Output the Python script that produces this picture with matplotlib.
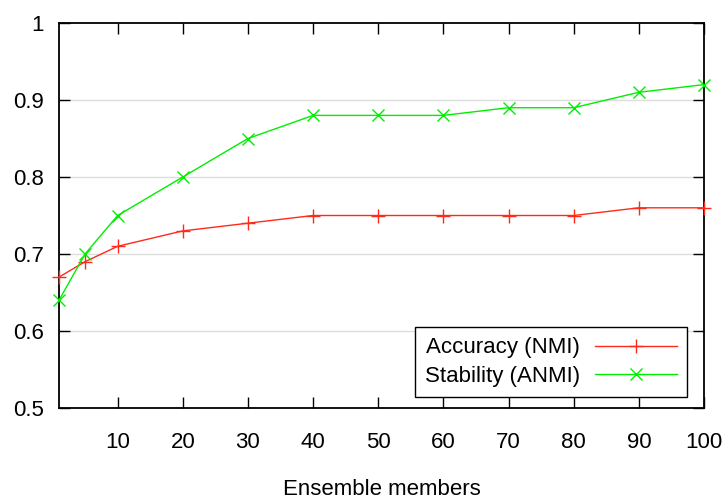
import matplotlib
matplotlib.use("Agg")
import matplotlib.pyplot as plt

members = [1, 5, 10, 20, 30, 40, 50, 60, 70, 80, 90, 100]
accuracy_nmi = [0.67, 0.69, 0.71, 0.73, 0.74, 0.75, 0.75, 0.75, 0.75, 0.75, 0.76, 0.76]
stability_anmi = [0.64, 0.70, 0.75, 0.80, 0.85, 0.88, 0.88, 0.88, 0.89, 0.89, 0.91, 0.92]
x_ticks = [10, 20, 30, 40, 50, 60, 70, 80, 90, 100]
y_ticks = [0.5, 0.6, 0.7, 0.8, 0.9, 1.0]
y_labels = ["0.5", "0.6", "0.7", "0.8", "0.9", "1"]

plt.rcParams["font.family"] = ["Liberation Sans", "DejaVu Sans"]

fig = plt.figure(figsize=(7.24, 5.04), dpi=100)
ax = fig.add_axes([59 / 724, 1 - 408 / 504, (704 - 59) / 724, (408 - 23) / 504])

for y in y_ticks[1:-1]:
    ax.axhline(y, color="#dddddd", lw=1.0, zorder=0)

ax.plot(members, accuracy_nmi, color="#ff2a1a", lw=1.0, marker="+",
        markersize=10, markeredgewidth=1.0, label="Accuracy (NMI)", clip_on=False, zorder=3)
ax.plot(members, stability_anmi, color="#00ee00", lw=1.0, marker="x",
        markersize=8, markeredgewidth=1.0, label="Stability (ANMI)", clip_on=False, zorder=3)

ax.set_xlim(1, 100)
ax.set_ylim(0.5, 1.0)
ax.set_xticks(x_ticks)
ax.set_yticks(y_ticks)
ax.set_yticklabels(y_labels)
ax.tick_params(direction="in", length=8, width=1.0, labelsize=16,
               top=True, right=True)
ax.tick_params(axis="x", pad=17)
ax.tick_params(axis="y", pad=11)
for s in ax.spines.values():
    s.set_linewidth(1.3)

ax.set_xlabel("Ensemble members", fontsize=16, labelpad=19)

leg = ax.legend(loc="lower right", bbox_to_anchor=(0.9736, 0.028), fontsize=16,
                frameon=True, fancybox=False, edgecolor="black", framealpha=1,
                markerfirst=False, handlelength=3.7, borderpad=0.45,
                labelspacing=0.35, handletextpad=0.65, borderaxespad=0)
leg.get_frame().set_linewidth(1.0)

fig.savefig("out.png", dpi=100)
